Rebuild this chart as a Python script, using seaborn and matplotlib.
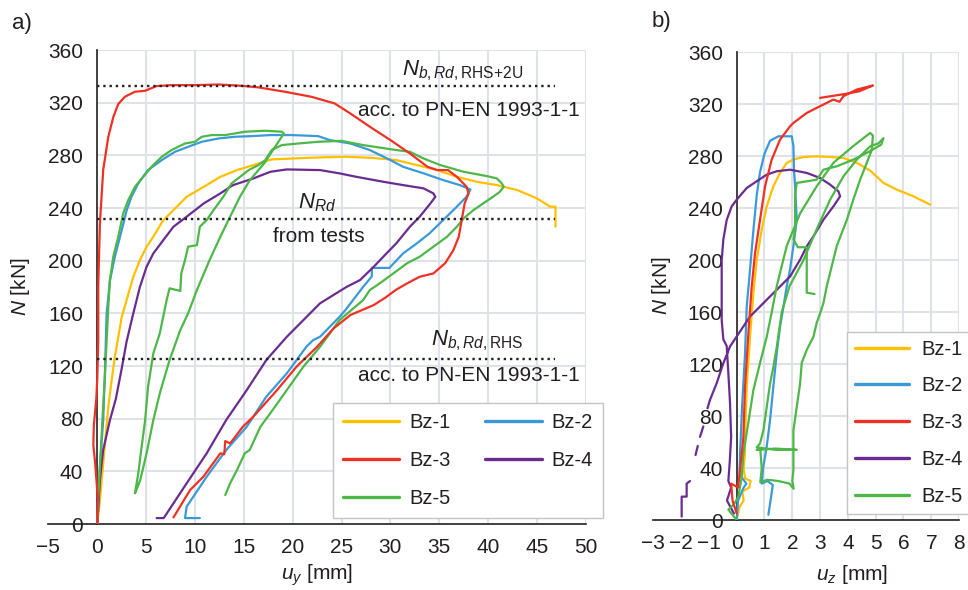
import numpy as np
import pandas as pd
import matplotlib
matplotlib.use("Agg")
import matplotlib.pyplot as plt
from matplotlib.lines import Line2D
import seaborn as sns

sns.set_style("white")
plt.rcParams["font.family"] = ["Liberation Sans", "DejaVu Sans"]
plt.rcParams["mathtext.fontset"] = "custom"
plt.rcParams["mathtext.rm"] = "Liberation Sans"
plt.rcParams["mathtext.it"] = "Liberation Sans:italic"
plt.rcParams["mathtext.bf"] = "Liberation Sans:bold"
plt.rcParams["axes.unicode_minus"] = True

INK = "#231f20"
GRID = "#dfe2e7"

SPECIMENS = ["Bz-1", "Bz-2", "Bz-3", "Bz-4", "Bz-5"]
COLORS = {"Bz-1": "#FFC000", "Bz-2": "#3A9AD9", "Bz-3": "#EE3124",
          "Bz-4": "#6A2C91", "Bz-5": "#4DB748"}
DRAW_ORDER = ["Bz-1", "Bz-2", "Bz-4", "Bz-5", "Bz-3"]

# ---------------- panel a: lateral displacement u_y ----------------
BZ1_UY = [0, 0.3, 0.6, 0.9, 1.13, 1.47, 1.8, 2.15, 2.5, 3.0, 3.69, 4.37, 5.05, 5.74,
          6.76, 7.8, 9.15, 10.9, 12.6, 14.3, 16.0, 17.85, 20.0, 22.6, 25.4, 27.9, 30.6,
          32.7, 34.8, 36.8, 38.85, 40.9, 43.0, 45.0, 46.35, 46.9, 46.9]
BZ1_NY = [0, 20, 45, 70, 89, 109, 127, 142, 157, 170, 187.8, 200.5, 210.6, 218.2,
          230.8, 238.4, 248.5, 256.1, 263.7, 268.8, 272.6, 276.9, 277.6, 278.4, 278.9,
          278.2, 276.4, 272.6, 268.8, 263.7, 259.9, 257.4, 253.6, 247.3, 241, 241, 225.8]

BZ2_UY = [0, 0.1, 0.27, 0.61, 0.78, 0.96, 1.3, 1.8, 2.5, 3.0, 3.5, 4.2, 5.2, 6.6, 7.95,
          9.3, 10.7, 12.4, 14.1, 15.8, 17.8, 19.9, 22.6, 23.8, 25.9, 27.9, 30.0, 31.3,
          33.4, 35.4, 37.1, 38.2, 37.8, 36.8, 35.4, 34.0, 32.7, 31.3, 29.9, 28.1, 28.1,
          27.2, 25.4, 24.8, 22.8, 22.1, 21.4, 19.4, 17.3, 15.3, 13.2, 11.2, 9.15, 8.98, 10.5]
BZ2_NY = [0, 13, 43.5, 79, 114, 160, 185, 203, 223, 238, 248.5, 258.7, 268.8, 276.4,
          282.7, 286.5, 290.3, 292.8, 294.1, 294.6, 295.4, 295.4, 294.6, 291.6, 289,
          284, 276.4, 271.3, 266.3, 261.2, 257.4, 254.1, 248.6, 241, 230.8, 220.7,
          213.1, 205.5, 194.5, 194.5, 188, 180, 162.5, 157.4, 142.2, 139.7, 134.6,
          114.4, 96.7, 73.9, 56.2, 35.9, 13.2, 4.5, 4.5]

BZ3_UY = [0, 0.05, -0.2, -0.4, -0.35, -0.1, 0, 0.1, 0.1, 0.27, 0.61, 1.13, 1.64, 2.15,
          2.83, 3.86, 4.88, 6.07, 7.61, 9.98, 12.4, 14.8, 16.5, 19.2, 21.9, 24.3, 25.9,
          27.9, 30.0, 32.0, 33.8, 34.8, 35.9, 36.8, 37.8, 38.0, 37.6, 37.3, 37.0, 36.45,
          35.6, 34.4, 33.0, 31.7, 30.6, 29.5, 28.3, 25.9, 24.2, 22.5, 20.4, 18.4, 15.97,
          14.9, 13.6, 13.1, 13.0, 12.6, 10.86, 9.5, 7.8]
BZ3_NY = [0, 20, 45, 60, 75, 95, 110, 140, 180, 228, 269, 294, 309, 319, 324.5, 328.3,
          329, 332.6, 333.3, 333.3, 333.8, 332.8, 331.6, 328.3, 324.5, 319.4, 311.8,
          301.7, 291.6, 281.4, 271.3, 268.8, 268.8, 263.7, 256.1, 251, 243.5, 230.8,
          218.2, 208, 198, 190.3, 187.8, 182.7, 178, 172, 166.3, 158.7, 148.6, 134.6,
          119.5, 101.7, 81.5, 73.9, 61.2, 63, 53, 53.7, 35.9, 25.8, 5]

BZ4_UY = [0, 0.27, 0.6, 1.3, 1.9, 2.5, 3.0, 3.69, 4.37, 5.05, 5.74, 6.76, 7.8, 9.15,
          10.9, 12.6, 13.9, 16.0, 17.7, 19.4, 22.8, 24.8, 26.5, 29.3, 31.3, 33.4, 34.4,
          34.6, 34.1, 33.0, 32.0, 30.6, 29.6, 28.3, 26.9, 25.5, 22.8, 21.1, 19.4, 17.3,
          15.3, 13.2, 11.2, 9.15, 7.8, 6.8, 6.08]
BZ4_NY = [0, 33.4, 56, 79, 95, 118, 138.5, 160, 180.2, 195.4, 205.5, 215.6, 225.8,
          233.4, 243.5, 251.1, 257.4, 262.5, 267.5, 269.3, 268.8, 266.3, 263.7, 259.9,
          257.4, 254.9, 251.1, 248.5, 243.5, 233.4, 225.8, 213.1, 205.5, 195.4, 185.3,
          180, 167.6, 154.9, 142.2, 124.5, 101.7, 79, 53.7, 30.9, 15.7, 4.5, 4.5]

BZ5_UY = [0, 0.1, 0.27, 0.44, 0.6, 0.8, 0.96, 1.13, 1.3, 1.64, 2.15, 2.66, 3.17, 3.86,
          4.7, 5.56, 6.6, 7.6, 8.98, 10.0, 10.7, 11.7, 13.1, 15.1, 17.2, 18.9, 19.1,
          18.2, 17.1, 15.6, 14.6, 13.6, 12.6, 11.5, 10.2, 9.3, 8.5, 7.4, 6.4, 5.74,
          5.05, 4.4, 4.0, 3.86,
          4.2, 4.5, 4.9, 5.2, 5.74, 6.4, 7.1, 7.4, 8.5, 8.6, 8.98, 9.3, 10.2, 10.5,
          11.2, 11.9, 12.9, 13.75, 15.5, 16.5, 17.2, 17.85, 18.9, 20.6, 22.6, 25.0,
          27.2, 30.6, 32.0, 33.4, 35.1, 37.5, 39.9, 40.9, 41.4, 41.6,
          41.2, 40.5, 39.5, 38.5, 37.5, 36.8, 35.8, 34.4, 33.0, 31.7, 30.3, 28.9,
          27.9, 27.2, 25.2, 24.8, 22.8, 21.1, 19.4, 17.7, 16.7, 15.6, 15.1, 14.3,
          13.6, 13.1]
BZ5_NY = [0, 20.8, 43.5, 66.3, 89, 114.4, 139.7, 165, 185.3, 203, 218.2, 236, 246,
          256.1, 263.7, 271.3, 278.9, 284, 289, 290.3, 294.1, 295.4, 295.4, 297.9,
          298.7, 297.9, 296.6,
          286.5, 274, 261, 248.5, 233.4, 218.2, 200.5, 177.7, 160, 147.3, 124.5,
          99.2, 79, 53.7, 33.4, 25.8, 23.3,
          38.5, 56.2, 79, 104.3, 129.6, 144.8, 170, 179, 177, 190.3, 200.5, 210.6,
          211.8, 225.8, 230.8, 238.4, 248.5, 258.7, 268.8, 272.6, 276.4, 284, 287.8,
          289, 290.3, 291, 287.8, 284, 282.7, 277.6, 272.6, 267.5, 264.2, 262.5,
          258.7, 256.1,
          252.3, 248.5, 243.5, 238.4, 232.1, 225.8, 218.2, 210.6, 203, 198, 190.3,
          182.7, 177.7, 170, 157.4, 154.9, 134.6, 119.5, 101.7, 84, 73.9, 56.2, 53.7,
          41, 30.9, 22]

# ---------------- panel b: displacement u_z ----------------
BZ1_UZ = [0, 0.1, 0.25, 0.2, 0.45, 0.5, 0.3, 0.25, 0.3, 0.3, 0.36, 0.48, 0.6, 0.72,
          0.9, 1.08, 1.32, 1.56, 1.8, 2.04, 2.4, 2.88, 3.36, 3.84, 4.32, 4.8, 5.28,
          5.76, 6.36, 6.96]
BZ1_NZ = [0, 10, 15, 22, 25, 30, 32, 40, 51, 64, 102.8, 141.3, 174.7, 200.4, 223.5,
          241.5, 256.9, 267.2, 274.9, 277.5, 279.5, 280, 279.5, 278.7, 275, 269,
          259.5, 254.3, 249.2, 242.8]

BZ2_UZ = [0, 0.05, 0.25, 0.35, 0.1, 0.12, 0.2, 0.3, 0.36, 0.48, 0.6, 0.72, 0.84, 1.0,
          1.2, 1.5, 1.98, 2.04, 2.06, 2.1, 2.16, 2.04, 1.92, 1.8, 1.68, 1.56, 1.44,
          1.32, 1.2, 1.08, 0.95, 0.9, 1.1, 1.3, 1.14]
BZ2_NZ = [0, 15, 25, 28, 35, 51, 90, 128, 164, 193, 223, 250, 268, 282, 292, 295.4,
          295.4, 288, 270, 257, 231, 211, 193, 180, 164, 149, 128.5, 103, 77, 56.5,
          40, 28, 30, 27, 4]

BZ3_UZ = [0, -0.15, -0.2, 0.05, 0.1, 0.2, 0.24, 0.3, 0.42, 0.54, 0.66, 0.84, 1.02,
          1.26, 1.56, 1.92, 2.04, 2.52, 3.0, 3.48, 3.7, 3.84, 4.32, 4.8, 4.9, 4.4,
          3.9, 3.0]
BZ3_NZ = [5, 15, 28, 25, 35, 55, 64, 102.8, 143.9, 179.8, 205.5, 231.2, 256.9,
          277.5, 292.9, 303.1, 305.7, 313.4, 318.6, 323.7, 322, 326.3, 331.4, 334.0,
          334.5, 330, 328, 325]

# Bz-4 in u_z has gaps in its record, kept as separate pieces
BZ4_UZ_PIECES = [
    [-0.1, -0.35, -0.2, -0.3, -0.25, -0.2, -0.24, -0.3, -0.36, -0.48, -0.54, -0.54,
     -0.54, -0.48, -0.36, -0.18, 0, 0.36, 0.72, 1.08, 1.44, 1.92, 2.52, 3.0, 3.36,
     3.66, 3.72, 3.48, 3.12, 2.76, 2.52, 2.28, 1.92, 1.56, 1.2, 0.84, 0.48, 0.24, 0,
     -0.24, -0.48, -0.72, -0.96, -1.05],
    [-1.2, -1.32],
    [-1.4, -1.48],
    [-1.68, -1.8, -1.8, -1.98, -1.98],
]
BZ4_NZ_PIECES = [
    [5, 15, 25, 30, 45, 64, 90, 113, 134, 139, 154, 180, 200, 216, 231, 241.5, 246.6,
     255.6, 260.8, 265.9, 268.5, 269.7, 267.2, 263.3, 258.2, 253, 249.2, 241.5, 231.2,
     218.4, 210.7, 200.4, 187.5, 179.8, 172.1, 164.4, 156.7, 149, 141.3, 133.6, 120.7,
     105.3, 92.5, 86],
    [72, 64],
    [57, 50],
    [30, 28, 18, 18, 2.6],
]

BZ5_UZ = [0, -0.3, -0.1, 0.06, 0.18, 0.24, 0.36, 0.6, 0.84, 1.08, 1.26, 1.44, 1.8,
          2.28, 2.88, 3.48, 4.2, 4.8, 4.9,
          4.86, 4.68, 4.44, 4.2, 3.96, 3.6, 3.24, 3.12, 3.0, 2.88, 2.76, 2.52, 2.34,
          2.28, 2.16, 2.04, 2.04, 2.04, 2.0, 2.05, 1.9, 1.5, 1.1, 0.85, 0.9, 0.85,
          0.72, 1.4, 2.16, 1.4, 0.72,
          0.84, 0.96, 1.08, 1.2, 1.32, 1.44, 1.62, 1.9, 2.4, 2.88, 3.36, 3.84, 4.32,
          4.8, 5.1, 5.28, 5.2,
          4.68, 4.2, 3.6, 3.12, 2.88, 2.16, 2.1, 2.1, 2.04, 2.2, 2.52, 2.52, 2.8]
BZ5_NZ = [0, 8, 12, 18, 33, 51, 67, 100, 121, 141, 160, 180, 211, 236, 257, 275,
          288, 298, 296,
          285, 275, 262, 247, 231, 211, 180, 167, 159, 152, 141, 131, 121, 105, 87,
          69, 54, 38.5, 30, 24, 28, 30, 31, 29, 40, 54, 54, 55, 54, 54, 56,
          59, 69, 87, 105, 118, 133, 160, 180, 200, 224, 246.6, 264.6, 277.5, 287.7,
          290, 294, 289,
          282.6, 277.5, 272.3, 269.7, 262, 259.5, 250, 223, 216, 210, 210, 175, 174]

# Design resistances [kN]
N_B_RD_RHS_2U = 333.0
N_RD_TESTS = 231.5
N_B_RD_RHS = 125.0


def to_frame(curves):
    rows = []
    for name, pieces in curves.items():
        for k, (xs, ns) in enumerate(pieces):
            for xv, nv in zip(xs, ns):
                rows.append((name, f"{name}/{k}", xv, nv))
    return pd.DataFrame(rows, columns=["specimen", "piece", "u", "N"])


df_y = to_frame({
    "Bz-1": [(BZ1_UY, BZ1_NY)], "Bz-2": [(BZ2_UY, BZ2_NY)],
    "Bz-3": [(BZ3_UY, BZ3_NY)], "Bz-4": [(BZ4_UY, BZ4_NY)],
    "Bz-5": [(BZ5_UY, BZ5_NY)],
})
df_z = to_frame({
    "Bz-1": [(BZ1_UZ, BZ1_NZ)], "Bz-2": [(BZ2_UZ, BZ2_NZ)],
    "Bz-3": [(BZ3_UZ, BZ3_NZ)],
    "Bz-4": list(zip(BZ4_UZ_PIECES, BZ4_NZ_PIECES)),
    "Bz-5": [(BZ5_UZ, BZ5_NZ)],
})

W, H = 968, 590
fig = plt.figure(figsize=(W / 100, H / 100), dpi=100)


def px_axes(x0, x1, y_top, y_bot):
    return fig.add_axes([x0 / W, 1 - y_bot / H, (x1 - x0) / W, (y_bot - y_top) / H])


ax_a = px_axes(48.4, 585.8, 50, 524)
ax_b = px_axes(653.3, 959.1, 52.4, 520)


def style_axes(ax, xlim, xticks, grid_x):
    ax.set_xlim(*xlim)
    ax.set_ylim(0, 360)
    ax.set_xticks(xticks)
    ax.set_yticks(np.arange(0, 361, 40))
    for side in ("top", "right"):
        ax.spines[side].set_visible(False)
    for side in ("left", "bottom"):
        ax.spines[side].set_position(("data", 0))
        ax.spines[side].set_color(INK)
        ax.spines[side].set_linewidth(1.2)
    ax.tick_params(direction="out", length=6, width=1.1, labelsize=15, pad=4,
                   colors=INK)
    ax.hlines(np.arange(40, 361, 40), 0, xlim[1], colors=GRID, lw=1.5, zorder=0)
    ax.vlines(grid_x, 0, 360, colors=GRID, lw=1.5, zorder=0)
    ax.set_facecolor("white")


style_axes(ax_a, (-5, 50), np.arange(-5, 51, 5), np.arange(5, 51, 5))
style_axes(ax_b, (-3, 8), np.arange(-3, 9, 1), np.arange(1, 9, 1))

for ax, df in ((ax_a, df_y), (ax_b, df_z)):
    sns.lineplot(data=df, x="u", y="N", hue="specimen", units="piece",
                 estimator=None, sort=False, hue_order=DRAW_ORDER, palette=COLORS,
                 linewidth=1.6, legend=False, ax=ax, zorder=3)

# Design resistance levels in panel a
ax_a.hlines([N_B_RD_RHS_2U, N_RD_TESTS, N_B_RD_RHS], 0, 46.8, colors=INK,
            linestyles=":", lw=1.7, zorder=4)
ax_a.text(37.4, 341, r"$N_{b,Rd,\mathrm{RHS{+}2U}}$", ha="center", va="baseline",
          fontsize=16, color=INK)
ax_a.text(49.4, 314, "acc. to PN-EN 1993-1-1", ha="right", va="center",
          fontsize=15, color=INK)
ax_a.text(22.5, 240, r"$N_{Rd}$", ha="center", va="baseline", fontsize=16, color=INK)
ax_a.text(22.7, 218, "from tests", ha="center", va="center", fontsize=15, color=INK)
ax_a.text(38.9, 136, r"$N_{b,Rd,\mathrm{RHS}}$", ha="center", va="baseline",
          fontsize=16, color=INK)
ax_a.text(49.4, 112.8, "acc. to PN-EN 1993-1-1", ha="right", va="center",
          fontsize=15, color=INK)

# Axis titles
ax_a.set_xlabel(r"$u_y$ [mm]", fontsize=15, color=INK)
ax_a.xaxis.set_label_coords(0.5, -0.082)
ax_a.set_ylabel(r"$N$ [kN]", fontsize=15, color=INK)
ax_a.yaxis.set_label_coords(-0.030, 0.5)
ax_b.set_xlabel(r"$u_z$ [mm]", fontsize=15, color=INK)
ax_b.xaxis.set_label_coords(0.65, -0.092)
ax_b.set_ylabel(r"$N$ [kN]", fontsize=15, color=INK)
ax_b.yaxis.set_label_coords(0.065, 0.5)

# Legends
def handles(names):
    return [Line2D([], [], color=COLORS[n], lw=2.4) for n in names]


leg_a_order = ["Bz-1", "Bz-3", "Bz-5", "Bz-2", "Bz-4"]
leg_a = ax_a.legend(handles(leg_a_order), leg_a_order, ncol=2, loc="upper left",
                    bbox_to_anchor=(333 / W, 1 - 403 / H), bbox_transform=fig.transFigure,
                    fontsize=14.5, frameon=True, fancybox=False, edgecolor="#c4c4c4",
                    framealpha=1, handlelength=2.8, handletextpad=0.5,
                    columnspacing=1.7, labelspacing=0.95, borderpad=0.5,
                    borderaxespad=0)
leg_a.get_frame().set_linewidth(1.0)
for t in leg_a.get_texts():
    t.set_color(INK)

leg_b = ax_b.legend(handles(SPECIMENS), SPECIMENS, ncol=1, loc="upper left",
                    bbox_to_anchor=(846.7 / W, 1 - 331.7 / H),
                    bbox_transform=fig.transFigure, fontsize=14.5, frameon=True,
                    fancybox=False, edgecolor="#c4c4c4", framealpha=1,
                    handlelength=2.7, handletextpad=0.6, labelspacing=0.88,
                    borderpad=0.4, borderaxespad=0)
leg_b.get_frame().set_linewidth(1.0)
for t in leg_b.get_texts():
    t.set_color(INK)

fig.text(12 / W, 1 - 24 / H, "a)", fontsize=16, color=INK, va="center", ha="left")
fig.text(652 / W, 1 - 21 / H, "b)", fontsize=16, color=INK, va="center", ha="left")

fig.savefig("out.png", dpi=100)
